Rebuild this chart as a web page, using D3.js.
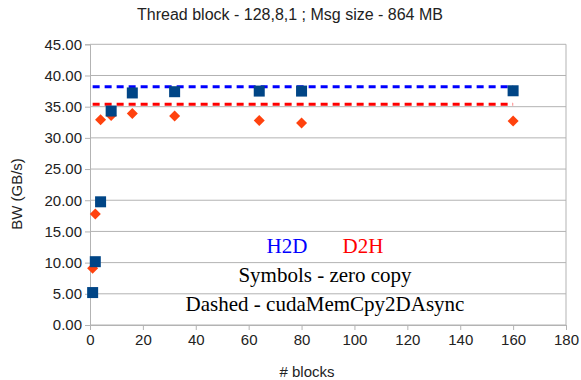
<!DOCTYPE html>
<html><head><meta charset="utf-8">
<script src="https://cdn.jsdelivr.net/npm/d3@7"></script>
<style>body{margin:0;background:#fff}</style>
</head><body>
<svg id="c" width="581" height="380"></svg>
<script>
const blocks = [1, 2, 4, 8, 16, 32, 64, 80, 160];
const h2dZeroCopy = [5.2, 10.15, 19.75, 34.3, 37.2, 37.4, 37.5, 37.5, 37.55];
const d2hZeroCopy = [9.1, 17.8, 32.9, 33.6, 33.9, 33.5, 32.8, 32.4, 32.7];
const h2dMemcpy = [38.2, 38.2, 38.2, 38.2, 38.2, 38.2, 38.2, 38.2, 38.2];
const d2hMemcpy = [35.4, 35.4, 35.4, 35.4, 35.4, 35.4, 35.4, 35.4, 35.4];
const xTicks = [0, 20, 40, 60, 80, 100, 120, 140, 160, 180];
const yTicks = [0, 5, 10, 15, 20, 25, 30, 35, 40, 45];

const svg = d3.select('#c');
const L = 90, R = 566, T = 44.3, B = 325;
const x = d3.scaleLinear().domain([0, 180]).range([L, R]);
const y = d3.scaleLinear().domain([0, 45]).range([B, T]);
const grid = '#b3b3b3';
const sans = 'Liberation Sans, Arial, sans-serif';

// grid lines
svg.append('g').selectAll('line').data(yTicks).join('line')
  .attr('x1', L).attr('x2', R).attr('y1', d => y(d)).attr('y2', d => y(d))
  .attr('stroke', grid).attr('stroke-width', 1);
svg.append('line').attr('x1', R).attr('x2', R).attr('y1', T).attr('y2', B).attr('stroke', grid);

const yAxis = svg.append('g').attr('transform', `translate(${L},0)`)
  .call(d3.axisLeft(y).tickValues(yTicks).tickFormat(d3.format('.2f')).tickSize(5).tickPadding(3));
const xAxis = svg.append('g').attr('transform', `translate(0,${B})`)
  .call(d3.axisBottom(x).tickValues(xTicks).tickFormat(d3.format('d')).tickSize(5).tickPadding(4));
[yAxis, xAxis].forEach(a => {
  a.selectAll('path,line').attr('stroke', grid);
  a.selectAll('text').attr('fill', '#222').style('font-family', sans).style('font-size', '15px');
});

// dashed lines
const line = d3.line().x(d => x(d[0])).y(d => y(d[1]));
svg.append('path').datum(blocks.map((b, i) => [b, h2dMemcpy[i]])).attr('d', line)
  .attr('fill', 'none').attr('stroke', '#0000ff').attr('stroke-width', 3).attr('stroke-dasharray', '7,5');
svg.append('path').datum(blocks.map((b, i) => [b, d2hMemcpy[i]])).attr('d', line)
  .attr('fill', 'none').attr('stroke', '#ff0000').attr('stroke-width', 3).attr('stroke-dasharray', '7,5');

// symbols
svg.append('g').selectAll('path').data(blocks.map((b, i) => [b, d2hZeroCopy[i]])).join('path')
  .attr('transform', d => `translate(${x(d[0])},${y(d[1])})`)
  .attr('d', 'M0,-5.5L5.5,0L0,5.5L-5.5,0Z').attr('fill', '#ff420e');
svg.append('g').selectAll('rect').data(blocks.map((b, i) => [b, h2dZeroCopy[i]])).join('rect')
  .attr('x', d => x(d[0]) - 5.5).attr('y', d => y(d[1]) - 5.5).attr('width', 11).attr('height', 11)
  .attr('fill', '#004586');

// titles
svg.append('text').attr('x', 290).attr('y', 20).attr('text-anchor', 'middle')
  .style('font-family', sans).style('font-size', '16px').attr('fill', '#222')
  .text('Thread block - 128,8,1 ; Msg size - 864 MB');
svg.append('text').attr('transform', 'translate(22,194) rotate(-90)').attr('text-anchor', 'middle')
  .style('font-family', sans).style('font-size', '15px').attr('fill', '#222')
  .text('BW (GB/s)');
svg.append('text').attr('x', 307).attr('y', 377).attr('text-anchor', 'middle')
  .style('font-family', sans).style('font-size', '15px').attr('fill', '#222')
  .text('# blocks');

// annotations
const serif = 'Liberation Serif, Times New Roman, serif';
svg.append('text').attr('x', 287).attr('y', 253).attr('text-anchor', 'middle').style('font-family', serif)
  .style('font-size', '21px').attr('fill', '#0000ff').text('H2D');
svg.append('text').attr('x', 363).attr('y', 253).attr('text-anchor', 'middle').style('font-family', serif)
  .style('font-size', '21px').attr('fill', '#ff0000').text('D2H');
svg.append('text').attr('x', 325).attr('y', 282).attr('text-anchor', 'middle').style('font-family', serif)
  .style('font-size', '21px').attr('fill', '#000').text('Symbols - zero copy');
svg.append('text').attr('x', 325).attr('y', 311).attr('text-anchor', 'middle').style('font-family', serif)
  .style('font-size', '21px').attr('fill', '#000').text('Dashed - cudaMemCpy2DAsync');
</script>
</body></html>
